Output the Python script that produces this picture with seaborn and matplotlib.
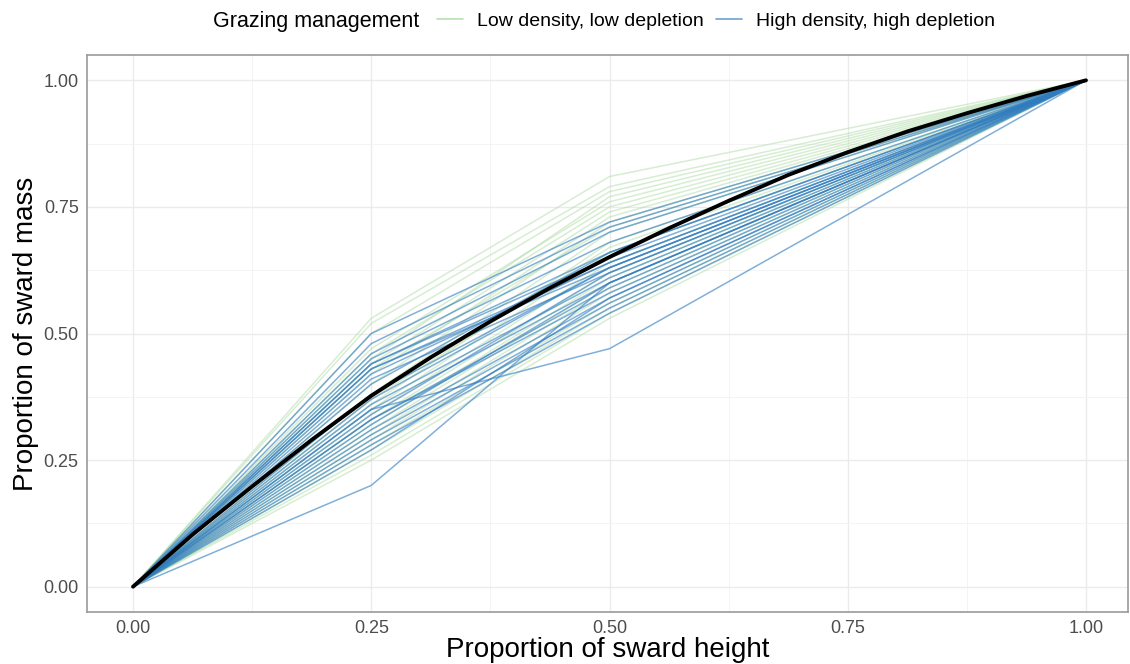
import numpy as np
import pandas as pd
import matplotlib
matplotlib.use("Agg")
import matplotlib.pyplot as plt
from matplotlib.lines import Line2D
import seaborn as sns

# Relative sward height at which each profile was sampled
heights = [0.0, 0.25, 0.50, 1.0]

# Cumulative proportion of sward mass at 0.25 and 0.50 of sward height
low_at_25 = [0.53, 0.52, 0.50, 0.47, 0.46, 0.45, 0.44, 0.42, 0.40, 0.38, 0.36, 0.35,
             0.34, 0.33, 0.32, 0.31, 0.30, 0.29, 0.28, 0.27, 0.26, 0.25, 0.43, 0.37]
low_at_50 = [0.81, 0.79, 0.78, 0.76, 0.75, 0.77, 0.74, 0.73, 0.72, 0.70, 0.68, 0.66,
             0.64, 0.62, 0.61, 0.60, 0.59, 0.58, 0.56, 0.55, 0.54, 0.53, 0.71, 0.67]

high_at_25 = [0.50, 0.48, 0.46, 0.45, 0.44, 0.44, 0.43, 0.43, 0.42, 0.41, 0.40, 0.38, 0.36,
              0.35, 0.34, 0.33, 0.33, 0.32, 0.31, 0.30, 0.29, 0.28, 0.27, 0.20, 0.35, 0.37]
high_at_50 = [0.72, 0.71, 0.70, 0.68, 0.66, 0.65, 0.64, 0.63, 0.64, 0.62, 0.66, 0.63, 0.61,
              0.60, 0.62, 0.59, 0.58, 0.60, 0.57, 0.56, 0.55, 0.54, 0.57, 0.60, 0.47, 0.63]

# Fitted overall mass-height curve
fit_height = [0.0, 0.0625, 0.125, 0.1875, 0.25, 0.3125, 0.375, 0.4375, 0.50,
              0.5625, 0.625, 0.6875, 0.75, 0.8125, 0.875, 0.9375, 1.0]
fit_mass = [0.0, 0.103, 0.198, 0.290, 0.377, 0.453, 0.524, 0.590, 0.651,
            0.708, 0.762, 0.813, 0.858, 0.899, 0.935, 0.969, 1.0]

groups = ["Low density, low depletion", "High density, high depletion"]
colors = {"Low density, low depletion": "#a6d99c",
          "High density, high depletion": "#2f7bbf"}
alphas = {"Low density, low depletion": 0.45,
          "High density, high depletion": 0.6}


def profiles(group, at25, at50, offset):
    rows = []
    for i, (a, b) in enumerate(zip(at25, at50)):
        for h, m in zip(heights, [0.0, a, b, 1.0]):
            rows.append({"id": offset + i, "group": group, "height": h, "mass": m})
    return rows


df = pd.DataFrame(profiles(groups[0], low_at_25, low_at_50, 0)
                  + profiles(groups[1], high_at_25, high_at_50, 100))
fit = pd.DataFrame({"height": fit_height, "mass": fit_mass})

sns.set_style("white")
plt.rcParams["font.family"] = ["Liberation Sans", "DejaVu Sans"]
plt.rcParams["text.color"] = "black"
plt.rcParams["axes.labelcolor"] = "black"

W, H = 1130, 664
fig = plt.figure(figsize=(W / 100, H / 100), dpi=100)
left, right, top, bottom = 87, 1128, 55, 612
ax = fig.add_axes([left / W, 1 - bottom / H, (right - left) / W, (bottom - top) / H])

for g in groups:
    sns.lineplot(data=df[df["group"] == g], x="height", y="mass", units="id",
                 estimator=None, color=colors[g], alpha=alphas[g], lw=1.1,
                 ax=ax, legend=False, sort=False)

sns.lineplot(data=fit, x="height", y="mass", color="black", lw=2.8, ax=ax,
             legend=False, sort=False)
ax.lines[-1].set_solid_joinstyle("round")
ax.lines[-1].set_solid_capstyle("round")

ax.set_xlim(-0.0483, 1.0441)
ax.set_ylim(-0.05, 1.05)
ticks = [0.0, 0.25, 0.5, 0.75, 1.0]
ax.set_xticks(ticks)
ax.set_yticks(ticks)
ax.set_xticklabels([f"{t:.2f}" for t in ticks])
ax.set_yticklabels([f"{t:.2f}" for t in ticks])
ax.set_xticks(np.arange(0.125, 1.0, 0.25), minor=True)
ax.set_yticks(np.arange(0.125, 1.0, 0.25), minor=True)
ax.grid(which="major", color="#ebebeb", lw=1.0)
ax.grid(which="minor", color="#f3f3f3", lw=0.6)
ax.set_axisbelow(True)
for s in ax.spines.values():
    s.set_color("#9a9a9a")
    s.set_linewidth(1.2)
ax.tick_params(which="major", length=3, width=0.8, color="#9a9a9a",
               labelsize=13, labelcolor="#4d4d4d", pad=3)
ax.tick_params(which="minor", length=0)

ax.set_xlabel("Proportion of sward height", fontsize=20, labelpad=0)
ax.set_ylabel("Proportion of sward mass", fontsize=20, labelpad=3)

fig.text(213 / W, 1 - 21 / H, "Grazing management", fontsize=15.5,
         ha="left", va="center")
handles = [Line2D([], [], color=colors[g], alpha=0.8 if g == groups[0] else 0.7, lw=1.2)
           for g in groups]
fig.legend(handles, groups, loc="center left", bbox_to_anchor=(437 / W, 1 - 21 / H),
           ncol=2, frameon=False, fontsize=14, borderpad=0, borderaxespad=0,
           handlelength=1.34, handletextpad=0.72, columnspacing=0.62)

fig.savefig("out.png", dpi=100, facecolor="white")
